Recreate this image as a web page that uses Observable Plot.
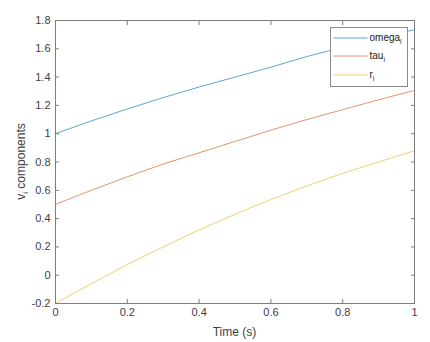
<!DOCTYPE html>
<html><head><meta charset="utf-8">
<script src="https://cdn.jsdelivr.net/npm/d3@7"></script>
<script src="https://cdn.jsdelivr.net/npm/@observablehq/plot@0.6"></script>
<style>body{margin:0;background:#fff} svg{display:block}</style>
</head><body><div id="chart"></div>
<script>
const time  = [0, 0.1, 0.2, 0.3, 0.4, 0.5, 0.6, 0.7, 0.8, 0.9, 1.0];
const omega = [1.00, 1.09, 1.175, 1.255, 1.33, 1.40, 1.47, 1.545, 1.61, 1.675, 1.735];
const tau   = [0.50, 0.60, 0.695, 0.785, 0.865, 0.945, 1.025, 1.10, 1.17, 1.24, 1.305];
const r     = [-0.20, -0.06, 0.075, 0.20, 0.32, 0.43, 0.535, 0.63, 0.72, 0.80, 0.88];
const seriesNames  = ["omega", "tau", "r"];
const seriesColors = ["#0072BD", "#D95319", "#EDB120"];
const xTicks = [0, 0.2, 0.4, 0.6, 0.8, 1];
const yTicks = [-0.2, 0, 0.2, 0.4, 0.6, 0.8, 1, 1.2, 1.4, 1.6, 1.8];
const xLabel = "Time (s)";
const yLabelMain = "v", yLabelSub = "i", yLabelRest = " components";
const legendSub = "i";

const seriesValues = [omega, tau, r];
const rows = [];
seriesNames.forEach((s, k) => time.forEach((t, i) => rows.push({t, v: seriesValues[k][i], s})));

const fmt = d => String(+d.toFixed(1));
const font = "'Liberation Sans', Arial, Helvetica, sans-serif";
const axisColor = "#7d7d7d";
const textColor = "#404040";
const lineWidth = 0.8;

// legend drawn as a custom Plot render mark (on top of the lines)
function legendMark(index, scales, values, dims) {
  const right = dims.width - dims.marginRight, top = dims.marginTop;
  const lw = 77, lh = 59;
  const lx = right - 7 - lw + 0.5, ly = top + 7 + 0.5;
  const g = d3.create("svg:g").attr("text-anchor", "start");
  g.append("rect").attr("x", lx).attr("y", ly).attr("width", lw).attr("height", lh)
    .style("fill", "#ffffff").style("stroke", "#8a8a8a").style("stroke-width", "1px");
  seriesNames.forEach((s, i) => {
    const cy = Math.round(ly + 10 + i * 18.8);
    g.append("line").attr("x1", lx + 3).attr("x2", lx + 37).attr("y1", cy).attr("y2", cy)
      .style("stroke", scales.color(s)).style("stroke-width", lineWidth + "px").style("stroke-opacity", 0.8);
    const t = g.append("text").attr("x", lx + 39).attr("y", cy + 3).attr("text-anchor", "start")
      .style("font-family", font).style("font-size", "10px").style("fill", "#202020");
    t.append("tspan").text(s);
    t.append("tspan").style("font-size", "7px").attr("dy", 3).text(legendSub);
  });
  return g.node();
}

const chart = Plot.plot({
  width: 430, height: 342,
  marginLeft: 55, marginRight: 16, marginTop: 20, marginBottom: 39,
  style: {fontFamily: font, fontSize: "11px", color: textColor, background: "#fff", overflow: "visible"},
  x: {domain: [0, 1]},
  y: {domain: [-0.2, 1.8]},
  color: {domain: seriesNames, range: seriesColors},
  marks: [
    Plot.line(rows, {x: "t", y: "v", z: "s", stroke: "s", strokeWidth: lineWidth, strokeOpacity: 0.8, curve: "monotone-x"}),
    Plot.frame({stroke: axisColor, strokeWidth: 1}),
    Plot.axisX({anchor: "bottom", ticks: xTicks, tickSize: -4, tickPadding: 9, tickFormat: fmt, label: null, stroke: axisColor, fill: textColor}),
    Plot.axisX({anchor: "top", ticks: xTicks, tickSize: -4, tickFormat: () => "", label: null, stroke: axisColor}),
    Plot.axisY({anchor: "left", ticks: yTicks, tickSize: -4, tickPadding: 9, tickFormat: fmt, label: null, stroke: axisColor, fill: textColor}),
    Plot.axisY({anchor: "right", ticks: yTicks, tickSize: -4, tickFormat: () => "", label: null, stroke: axisColor}),
    legendMark
  ]
});
document.getElementById("chart").appendChild(chart);

const svg = d3.select(chart);
const xr = chart.scale("x").range, yr = chart.scale("y").range;
const pLeft = Math.min(...xr), pRight = Math.max(...xr);
const pTop = Math.min(...yr), pBottom = Math.max(...yr);

// x label
svg.append("text").attr("x", (pLeft + pRight) / 2).attr("y", pBottom + 33)
  .attr("text-anchor", "middle").style("font-family", font).style("font-size", "12px").style("fill", textColor)
  .text(xLabel);

// y label with subscript
const yl = svg.append("text")
  .attr("transform", `translate(25,${(pTop + pBottom) / 2}) rotate(-90)`)
  .attr("text-anchor", "middle").style("font-family", font).style("font-size", "12px").style("fill", textColor);
yl.append("tspan").text(yLabelMain);
yl.append("tspan").style("font-size", "8px").attr("dy", 3).text(yLabelSub);
yl.append("tspan").attr("dy", -3).text(yLabelRest);
</script>
</body></html>
